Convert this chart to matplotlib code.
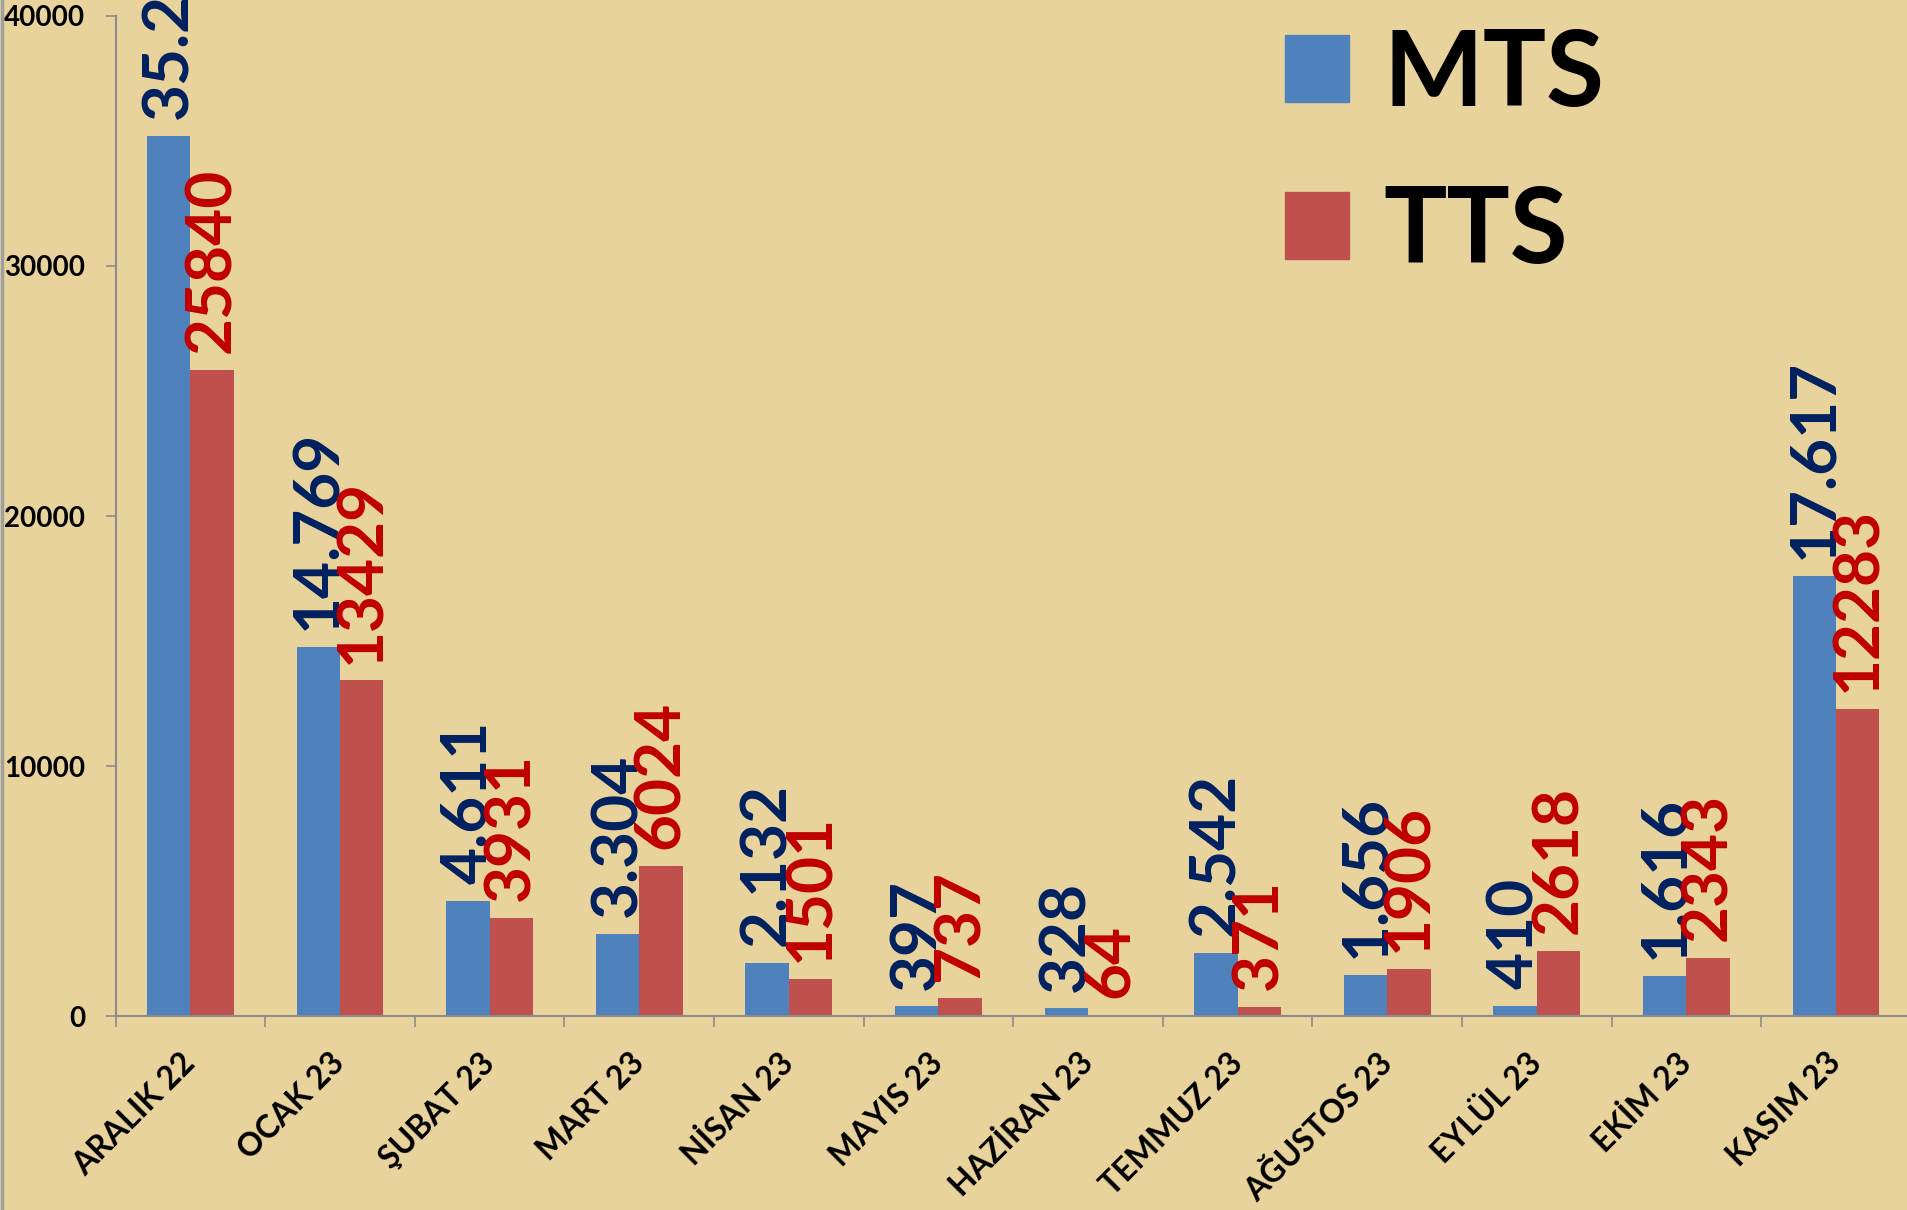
import matplotlib
matplotlib.use('Agg')
import matplotlib.pyplot as plt
from matplotlib.patches import Patch
from matplotlib.lines import Line2D
import numpy as np

# ---- data ----
months = ['ARALIK 22', 'OCAK 23', 'ŞUBAT 23', 'MART 23', 'NİSAN 23', 'MAYIS 23',
          'HAZİRAN 23', 'TEMMUZ 23', 'AĞUSTOS 23', 'EYLÜL 23', 'EKİM 23', 'KASIM 23']
mts = [35200, 14769, 4611, 3304, 2132, 397, 328, 2542, 1656, 410, 1616, 17617]
tts = [25840, 13429, 3931, 6024, 1501, 737, 64, 371, 1906, 2618, 2343, 12283]
y_ticks = [0, 10000, 20000, 30000, 40000]

FONT = ['Lato', 'DejaVu Sans']
BG = '#E9D39D'
BLUE = '#4F81BD'
RED = '#C0504D'
NAVY = '#002060'
DARKRED = '#C00000'
GRAY = '#8C8C8C'

plt.rcParams['font.family'] = FONT
plt.rcParams['font.weight'] = 'bold'

fig = plt.figure(figsize=(19.07, 12.10), dpi=100)
fig.patch.set_facecolor(BG)
ax = fig.add_axes([0.0606, 0.160, 0.9414, 0.827])
ax.set_facecolor(BG)

x = np.arange(len(months))
w = 0.29
ax.bar(x - w / 2, mts, width=w, color=BLUE, label='MTS', zorder=2)
ax.bar(x + w / 2, tts, width=w, color=RED, label='TTS', zorder=2)

# data labels, rotated
for xi, v in zip(x, mts):
    ax.annotate(f'{v:,}'.replace(',', '.'), (xi - w / 2, v), xytext=(0, 12),
                textcoords='offset points', rotation=90, ha='center', va='bottom',
                color=NAVY, fontsize=46, fontweight='bold', zorder=3)
for xi, v in zip(x, tts):
    ax.annotate(str(v), (xi + w / 2, v), xytext=(0, 12),
                textcoords='offset points', rotation=90, ha='center', va='bottom',
                color=DARKRED, fontsize=46, fontweight='bold', zorder=3)

ax.set_xlim(-0.5, len(months) - 0.5)
ax.set_ylim(0, 40000)
ax.set_yticks(y_ticks)
ax.set_yticklabels([str(t) for t in y_ticks], fontsize=20, fontweight='bold')
ax.set_xticks(x)
ax.set_xticklabels(months, rotation=45, ha='right', va='center',
                   rotation_mode='anchor', fontsize=23, fontweight='bold')
ax.set_xticks(np.arange(-0.5, len(months), 1), minor=True)
ax.tick_params(axis='x', which='major', length=0, pad=30)
ax.tick_params(axis='x', which='minor', length=8, color=GRAY, width=1.2)
ax.tick_params(axis='y', length=7, color=GRAY, width=1.2, pad=15)

for s in ['top', 'right']:
    ax.spines[s].set_visible(False)
for s in ['left', 'bottom']:
    ax.spines[s].set_color(GRAY)
    ax.spines[s].set_linewidth(1.5)

# legend
handles = [Patch(color=BLUE), Patch(color=RED)]
ax.legend(handles, ['MTS', 'TTS'], loc='upper left', bbox_to_anchor=(0.674, 0.977),
          bbox_transform=fig.transFigure, frameon=False,
          prop={'family': FONT, 'weight': 'bold', 'size': 76},
          handlelength=0.6, handleheight=0.6, handletextpad=0.33,
          labelspacing=0.58, borderpad=0, borderaxespad=0)

# thin border line at the left edge of the image
fig.add_artist(Line2D([0.001, 0.001], [0, 1], transform=fig.transFigure,
                      color='#A0A0A0', lw=2.5))

fig.savefig('out.png', dpi=100, facecolor=BG)
